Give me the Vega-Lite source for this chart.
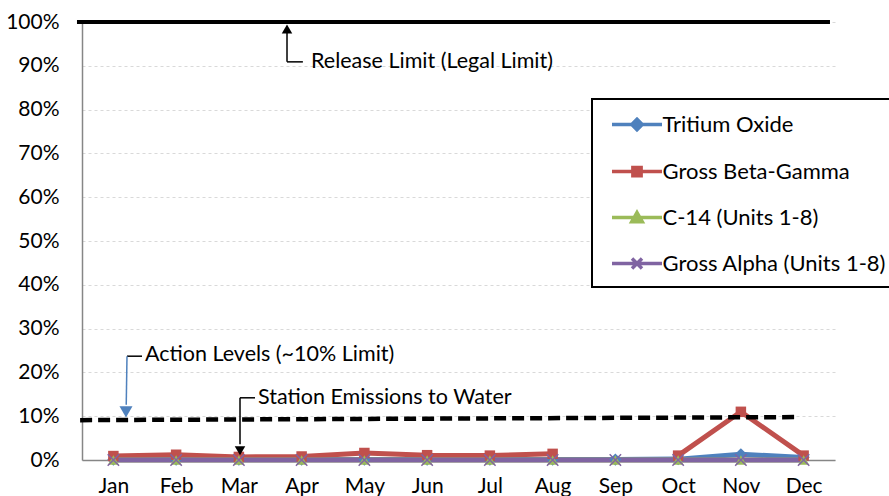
{
  "$schema": "https://vega.github.io/schema/vega-lite/v6.json",
  "width": 753,
  "height": 438,
  "autosize": {"type": "none"},
  "padding": {"left": 82, "top": 22, "right": 54, "bottom": 36},
  "background": "white",
  "config": {
    "view": {"stroke": null},
    "font": "Lato",
    "axis": {"labelFont": "Lato", "labelFontSize": 21, "labelColor": "black", "title": null, "ticks": false, "domainColor": "#868686", "domainWidth": 1.5},
    "legend": {
      "orient": "none", "legendX": 510, "legendY": 77, "direction": "vertical",
      "strokeColor": "black", "strokeWidth": 2, "fillColor": "white", "padding": 11,
      "symbolSize": 625, "symbolStrokeWidth": 3.5, "symbolOffset": 19.5, "labelOffset": 11,
      "rowPadding": 20, "labelFontSize": 22, "labelFont": "Lato", "labelColor": "black", "labelLimit": 400
    }
  },
  "datasets": {
    "emissions": [
      {"month": "Jan", "m": 1, "series": "Tritium Oxide", "value": 0.1},
      {"month": "Feb", "m": 2, "series": "Tritium Oxide", "value": 0.1},
      {"month": "Mar", "m": 3, "series": "Tritium Oxide", "value": 0.1},
      {"month": "Apr", "m": 4, "series": "Tritium Oxide", "value": 0.1},
      {"month": "May", "m": 5, "series": "Tritium Oxide", "value": 0.1},
      {"month": "Jun", "m": 6, "series": "Tritium Oxide", "value": 0.1},
      {"month": "Jul", "m": 7, "series": "Tritium Oxide", "value": 0.1},
      {"month": "Aug", "m": 8, "series": "Tritium Oxide", "value": 0.1},
      {"month": "Sep", "m": 9, "series": "Tritium Oxide", "value": 0.1},
      {"month": "Oct", "m": 10, "series": "Tritium Oxide", "value": 0.2},
      {"month": "Nov", "m": 11, "series": "Tritium Oxide", "value": 1.3},
      {"month": "Dec", "m": 12, "series": "Tritium Oxide", "value": 0.6},
      {"month": "Jan", "m": 1, "series": "Gross Beta-Gamma", "value": 0.9},
      {"month": "Feb", "m": 2, "series": "Gross Beta-Gamma", "value": 1.2},
      {"month": "Mar", "m": 3, "series": "Gross Beta-Gamma", "value": 0.7},
      {"month": "Apr", "m": 4, "series": "Gross Beta-Gamma", "value": 0.8},
      {"month": "May", "m": 5, "series": "Gross Beta-Gamma", "value": 1.6},
      {"month": "Jun", "m": 6, "series": "Gross Beta-Gamma", "value": 1.1},
      {"month": "Jul", "m": 7, "series": "Gross Beta-Gamma", "value": 1.0},
      {"month": "Aug", "m": 8, "series": "Gross Beta-Gamma", "value": 1.4},
      {"month": "Sep", "m": 9, "series": "Gross Beta-Gamma", "value": null},
      {"month": "Oct", "m": 10, "series": "Gross Beta-Gamma", "value": 1.0},
      {"month": "Nov", "m": 11, "series": "Gross Beta-Gamma", "value": 11.0},
      {"month": "Dec", "m": 12, "series": "Gross Beta-Gamma", "value": 1.0},
      {"month": "Jan", "m": 1, "series": "C-14 (Units 1-8)", "value": 0},
      {"month": "Feb", "m": 2, "series": "C-14 (Units 1-8)", "value": 0},
      {"month": "Mar", "m": 3, "series": "C-14 (Units 1-8)", "value": 0},
      {"month": "Apr", "m": 4, "series": "C-14 (Units 1-8)", "value": 0},
      {"month": "May", "m": 5, "series": "C-14 (Units 1-8)", "value": 0},
      {"month": "Jun", "m": 6, "series": "C-14 (Units 1-8)", "value": 0},
      {"month": "Jul", "m": 7, "series": "C-14 (Units 1-8)", "value": 0},
      {"month": "Aug", "m": 8, "series": "C-14 (Units 1-8)", "value": 0},
      {"month": "Sep", "m": 9, "series": "C-14 (Units 1-8)", "value": 0},
      {"month": "Oct", "m": 10, "series": "C-14 (Units 1-8)", "value": 0},
      {"month": "Nov", "m": 11, "series": "C-14 (Units 1-8)", "value": 0},
      {"month": "Dec", "m": 12, "series": "C-14 (Units 1-8)", "value": 0},
      {"month": "Jan", "m": 1, "series": "Gross Alpha (Units 1-8)", "value": 0},
      {"month": "Feb", "m": 2, "series": "Gross Alpha (Units 1-8)", "value": 0},
      {"month": "Mar", "m": 3, "series": "Gross Alpha (Units 1-8)", "value": 0},
      {"month": "Apr", "m": 4, "series": "Gross Alpha (Units 1-8)", "value": 0},
      {"month": "May", "m": 5, "series": "Gross Alpha (Units 1-8)", "value": 0},
      {"month": "Jun", "m": 6, "series": "Gross Alpha (Units 1-8)", "value": 0},
      {"month": "Jul", "m": 7, "series": "Gross Alpha (Units 1-8)", "value": 0},
      {"month": "Aug", "m": 8, "series": "Gross Alpha (Units 1-8)", "value": 0},
      {"month": "Sep", "m": 9, "series": "Gross Alpha (Units 1-8)", "value": 0},
      {"month": "Oct", "m": 10, "series": "Gross Alpha (Units 1-8)", "value": 0},
      {"month": "Nov", "m": 11, "series": "Gross Alpha (Units 1-8)", "value": 0},
      {"month": "Dec", "m": 12, "series": "Gross Alpha (Units 1-8)", "value": 0}
    ],
    "limits": [
      {"name": "Release Limit", "m": 0.42, "m2": 12.42, "value": 100, "value2": 100}
    ],
    "action": [
      {"name": "Action Levels", "m": 0.47, "m2": 11.91, "value": 9.1, "value2": 9.8}
    ],
    "leaders": [
      {"m": 3.767, "m2": 3.767, "value": 90.9, "value2": 97.6},
      {"m": 3.767, "m2": 4.02, "value": 90.9, "value2": 90.9},
      {"m": 1.217, "m2": 1.456, "value": 23.7, "value2": 23.7},
      {"m": 3.018, "m2": 3.257, "value": 14.2, "value2": 14.2},
      {"m": 3.018, "m2": 3.018, "value": 14.2, "value2": 3.6}
    ],
    "blueLeaders": [
      {"m": 1.217, "m2": 1.205, "value": 23.7, "value2": 12.6}
    ],
    "headsUp": [{"m": 3.767, "value": 98.4}],
    "headsDown": [{"m": 3.018, "value": 2.1}],
    "blueHeads": [{"m": 1.201, "value": 11.0}],
    "notes": [
      {"m": 4.15, "value": 90.9, "text": "Release Limit (Legal Limit)"},
      {"m": 1.504, "value": 24.0, "text": "Action Levels (~10% Limit)"},
      {"m": 3.305, "value": 14.2, "text": "Station Emissions to Water"}
    ]
  },
  "layer": [
    {
      "data": {"name": "emissions"},
      "mark": {"type": "line", "strokeWidth": 5, "invalid": "break-paths-filter-domains"},
      "encoding": {
        "x": {"field": "m", "type": "quantitative",
              "scale": {"domain": [0.5, 12.5], "nice": false, "zero": false},
              "axis": {"values": [1,2,3,4,5,6,7,8,9,10,11,12], "grid": false, "labelPadding": 15,
                       "labelExpr": "['Jan','Feb','Mar','Apr','May','Jun','Jul','Aug','Sep','Oct','Nov','Dec'][datum.value-1]"}},
        "y": {"field": "value", "type": "quantitative",
              "scale": {"domain": [0, 100], "nice": false},
              "axis": {"values": [0,10,20,30,40,50,60,70,80,90,100], "grid": true, "gridColor": "#d9d9d9", "gridDash": [3,3], "gridWidth": 1, "labelPadding": 23,
                       "labelExpr": "datum.value + '%'"}},
        "color": {"field": "series", "type": "nominal",
                  "scale": {"domain": ["Tritium Oxide", "Gross Beta-Gamma", "C-14 (Units 1-8)", "Gross Alpha (Units 1-8)"],
                            "range": ["#4F81BD", "#C0504D", "#9BBB59", "#8064A2"]}},
        "order": {"field": "m"}
      }
    },
    {
      "data": {"name": "emissions"},
      "transform": [{"filter": "datum.series === 'Tritium Oxide'"}],
      "mark": {"type": "point", "shape": "diamond", "filled": true, "size": 150, "opacity": 1},
      "encoding": {
        "x": {"field": "m", "type": "quantitative"},
        "y": {"field": "value", "type": "quantitative"},
        "color": {"field": "series", "type": "nominal"}
      }
    },
    {
      "data": {"name": "emissions"},
      "transform": [{"filter": "datum.series === 'Gross Beta-Gamma' && datum.value != null"}],
      "mark": {"type": "point", "shape": "square", "filled": true, "size": 110, "opacity": 1},
      "encoding": {
        "x": {"field": "m", "type": "quantitative"},
        "y": {"field": "value", "type": "quantitative"},
        "color": {"field": "series", "type": "nominal"}
      }
    },
    {
      "data": {"name": "emissions"},
      "transform": [{"filter": "datum.series === 'C-14 (Units 1-8)'"}],
      "mark": {"type": "point", "shape": "triangle-up", "filled": true, "size": 120, "opacity": 1},
      "encoding": {
        "x": {"field": "m", "type": "quantitative"},
        "y": {"field": "value", "type": "quantitative"},
        "color": {"field": "series", "type": "nominal"}
      }
    },
    {
      "data": {"name": "emissions"},
      "transform": [{"filter": "datum.series === 'Gross Alpha (Units 1-8)'"}],
      "mark": {"type": "point", "shape": "M-1,-1L1,1M-1,1L1,-1", "filled": false, "size": 130, "strokeWidth": 1.5, "opacity": 1},
      "encoding": {
        "x": {"field": "m", "type": "quantitative"},
        "y": {"field": "value", "type": "quantitative"},
        "color": {"field": "series", "type": "nominal"}
      }
    },
    {
      "data": {"name": "limits"},
      "mark": {"type": "rule", "color": "black", "strokeWidth": 4},
      "encoding": {
        "x": {"field": "m", "type": "quantitative"},
        "x2": {"field": "m2"},
        "y": {"field": "value", "type": "quantitative"},
        "y2": {"field": "value2"}
      }
    },
    {
      "data": {"name": "action"},
      "mark": {"type": "rule", "color": "black", "strokeWidth": 4.5, "strokeDash": [12, 6]},
      "encoding": {
        "x": {"field": "m", "type": "quantitative"},
        "x2": {"field": "m2"},
        "y": {"field": "value", "type": "quantitative"},
        "y2": {"field": "value2"}
      }
    },
    {
      "data": {"name": "leaders"},
      "mark": {"type": "rule", "color": "black", "strokeWidth": 1.5},
      "encoding": {
        "x": {"field": "m", "type": "quantitative"},
        "x2": {"field": "m2"},
        "y": {"field": "value", "type": "quantitative"},
        "y2": {"field": "value2"}
      }
    },
    {
      "data": {"name": "blueLeaders"},
      "mark": {"type": "rule", "color": "#4F81BD", "strokeWidth": 1.5},
      "encoding": {
        "x": {"field": "m", "type": "quantitative"},
        "x2": {"field": "m2"},
        "y": {"field": "value", "type": "quantitative"},
        "y2": {"field": "value2"}
      }
    },
    {
      "data": {"name": "headsUp"},
      "mark": {"type": "point", "shape": "triangle-up", "filled": true, "color": "black", "size": 110, "opacity": 1},
      "encoding": {
        "x": {"field": "m", "type": "quantitative"},
        "y": {"field": "value", "type": "quantitative"}
      }
    },
    {
      "data": {"name": "headsDown"},
      "mark": {"type": "point", "shape": "triangle-down", "filled": true, "color": "black", "size": 110, "opacity": 1},
      "encoding": {
        "x": {"field": "m", "type": "quantitative"},
        "y": {"field": "value", "type": "quantitative"}
      }
    },
    {
      "data": {"name": "blueHeads"},
      "mark": {"type": "point", "shape": "triangle-down", "filled": true, "color": "#4F81BD", "size": 170, "opacity": 1},
      "encoding": {
        "x": {"field": "m", "type": "quantitative"},
        "y": {"field": "value", "type": "quantitative"}
      }
    },
    {
      "data": {"name": "notes"},
      "mark": {"type": "text", "align": "left", "baseline": "middle", "font": "Lato", "fontSize": 21.5, "color": "black"},
      "encoding": {
        "x": {"field": "m", "type": "quantitative"},
        "y": {"field": "value", "type": "quantitative"},
        "text": {"field": "text"}
      }
    },
    {
      "data": {"name": "emissions"},
      "transform": [{"filter": "datum.value > 1000"}],
      "mark": {"type": "point", "filled": true, "opacity": 1},
      "encoding": {
        "x": {"field": "m", "type": "quantitative"},
        "y": {"field": "value", "type": "quantitative"},
        "color": {"field": "series", "type": "nominal", "legend": {"title": null}},
        "stroke": {"field": "series", "type": "nominal", "legend": {"title": null},
                   "scale": {"domain": ["Tritium Oxide", "Gross Beta-Gamma", "C-14 (Units 1-8)", "Gross Alpha (Units 1-8)"],
                             "range": ["#4F81BD", "#C0504D", "#9BBB59", "#8064A2"]}},
        "shape": {"field": "series", "type": "nominal", "legend": {"title": null},
                  "scale": {"domain": ["Tritium Oxide", "Gross Beta-Gamma", "C-14 (Units 1-8)", "Gross Alpha (Units 1-8)"],
                            "range": ["M-2,0L2,0M0,-0.42L0.42,0L0,0.42L-0.42,0Z",
                                      "M-2,0L2,0M-0.33,-0.33L0.33,-0.33L0.33,0.33L-0.33,0.33Z",
                                      "M-2,0L2,0M0,-0.4L0.42,0.33L-0.42,0.33Z",
                                      "M-2,0L2,0M-0.4,-0.4L0.4,0.4M-0.4,0.4L0.4,-0.4"]}}
      }
    }
  ]
}
